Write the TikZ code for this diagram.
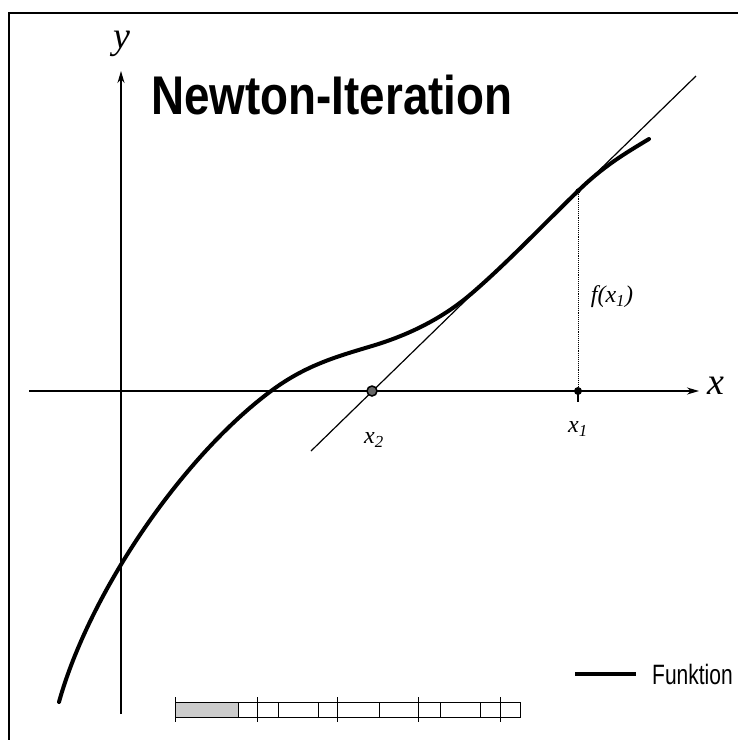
\documentclass[tikz,border=0pt]{standalone}
\usepackage{graphicx}
\usepackage{fontspec}
\setmainfont{Liberation Serif}
\newfontfamily\titlefont{Liberation Sans}
\usetikzlibrary{arrows.meta, positioning, calc}

\begin{document}
\begin{tikzpicture}[
        x=1pt, y=-1pt,
        axis/.style={-{Stealth[length=12pt, width=7pt]}, line width=1.6pt},
        func/.style={line width=4pt, line cap=round},
        tang/.style={line width=1.2pt},
        dot/.style={circle, fill=black, inner sep=0pt, minimum size=#1},
        lbl/.style={inner sep=0pt, font=\itshape\fontsize{24}{24}\selectfont},
        bigl/.style={inner sep=0pt, font=\itshape\fontsize{38}{38}\selectfont}
    ]
        \useasboundingbox (0,0) rectangle (738,740);
        % Rahmen
        \draw[line width=2pt] (9,740) -- (9,13) -- (738,13);

        % Titel
        \node[anchor=base, inner sep=0pt, font=\titlefont\bfseries\fontsize{54.5}{54.5}\selectfont] (title) at (332,114) {\scalebox{0.84}[1]{Newton-Iteration}};

        % Achsen
        \coordinate (xa) at (29,391);
        \coordinate (xb) at (699,391);
        \coordinate (ya) at (121,714);
        \coordinate (yb) at (121,71);
        \draw[axis] (xa) -- (xb);
        \draw[axis] (ya) -- (yb);
        \node[bigl] (lblx) at (716,386) {x};
        \node[bigl] (lbly) at (122,44) {y};

        % Funktion
        \draw[func] (59,702) .. controls (89,594) and (181,458) .. (271,391)
            .. controls (306,365) and (337,356.5) .. (372,346)
            .. controls (407,335.5) and (441,319.5) .. (471,294)
            .. controls (506,264) and (543,225) .. (578,191)
            .. controls (603,166.6) and (624,154) .. (649,139);

        % Tangente in x1
        \coordinate (ta) at (311,451);
        \coordinate (tb) at (696,76);
        \draw[tang] (ta) -- (tb);

        % Punkte
        \node[dot=5pt] (fx1) at (578,191) {};
        \node[dot=8pt] (x1) at (578,391) {};
        \node[dot=10pt, draw=black, fill=black!60, line width=1.5pt] (x2) at (372,391) {};
        \draw[densely dotted, line width=0.9pt] (fx1) -- (x1);
        \draw[line width=1.5pt] (x1.center) -- ++(0,11);
        \node[lbl] (lblf) at (612,297) {f(x\textsubscript{1})};
        \node[lbl] (lblx1) at (578,429) {x\textsubscript{1}};
        \node[lbl] (lblx2) at (374,440) {x\textsubscript{2}};

        % Legende
        \coordinate (la) at (575,674);
        \coordinate (lb) at (636,674);
        \draw[func, line cap=butt] (la) -- (lb);
        \node[anchor=west, inner sep=0pt, font=\titlefont\fontsize{28}{28}\selectfont] (leg) at (652,674) {\scalebox{0.75}[1]{Funktion}};

        % Massstab
        \fill[black!20] (175,702) rectangle (238,717);
        \draw[line width=0.8pt] (175,702) rectangle (520,717);
        \foreach \xx in {175,257,337,418,500}
            \draw[line width=0.8pt] (\xx,697) -- (\xx,722);
        \foreach \xx in {238,278,318,379,440,480}
            \draw[line width=0.6pt] (\xx,702) -- (\xx,717);
    \end{tikzpicture}
\end{document}
